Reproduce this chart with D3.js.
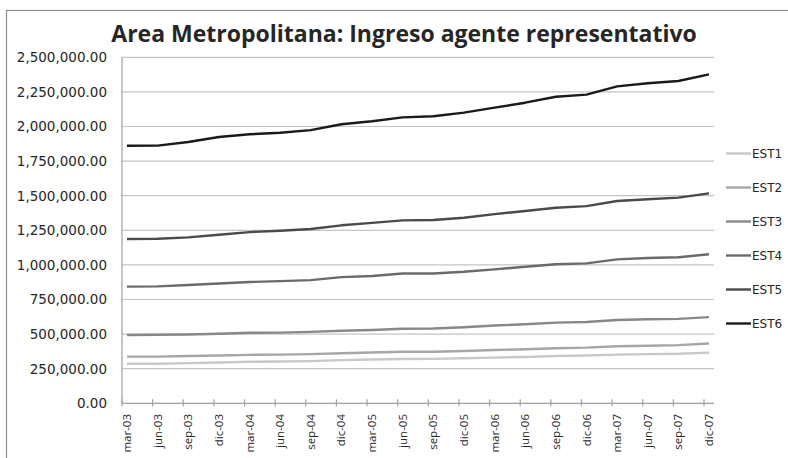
<!DOCTYPE html>
<html lang="es">
<head>
<meta charset="utf-8">
<title>Area Metropolitana: Ingreso agente representativo</title>
<style>
  body { margin: 0; background: #fff; }
  svg text { fill: #262626; }
</style>
</head>
<body>
<div id="chart"></div>
<script src="https://cdn.jsdelivr.net/npm/d3@7"></script>
<script>
var periodos = ["mar-03","jun-03","sep-03","dic-03","mar-04","jun-04","sep-04","dic-04",
                "mar-05","jun-05","sep-05","dic-05","mar-06","jun-06","sep-06","dic-06",
                "mar-07","jun-07","sep-07","dic-07"];

var est1 = [286000,286000,290000,295000,300000,302000,305000,312000,316000,320000,
            321000,325000,330000,335000,342000,345000,352000,355000,358000,366000];
var est2 = [337000,337000,342000,345000,350000,352000,355000,362000,367000,372000,
            373000,378000,385000,390000,398000,402000,412000,416000,420000,432000];
var est3 = [493000,495000,497000,503000,510000,511000,516000,524000,530000,539000,
            540000,550000,562000,571000,583000,587000,602000,607000,610000,623000];
var est4 = [843000,845000,855000,866000,876000,883000,890000,912000,920000,938000,
            938000,950000,968000,987000,1005000,1011000,1040000,1050000,1055000,1077000];
var est5 = [1187000,1189000,1199000,1218000,1237000,1247000,1259000,1286000,1304000,1322000,
            1324000,1341000,1367000,1389000,1413000,1425000,1462000,1474000,1486000,1517000];
var est6 = [1861000,1862000,1888000,1924000,1944000,1955000,1974000,2016000,2038000,2066000,
            2074000,2100000,2136000,2172000,2215000,2230000,2290000,2312000,2329000,2377000];

var nombres = ["EST1","EST2","EST3","EST4","EST5","EST6"];
var colores = ["#c8c8c8","#a6a6a6","#888888","#6a6a6a","#4a4a4a","#1a1a1a"];
var yTicks = [0,250000,500000,750000,1000000,1250000,1500000,1750000,2000000,2250000,2500000];

var series = [est1, est2, est3, est4, est5, est6];

var width = 788, height = 458;
var plotLeft = 122, plotRight = 714, plotTop = 57.3, plotBottom = 403.3;

var svg = d3.select("#chart").append("svg")
    .attr("width", width)
    .attr("height", height);

// marco exterior
svg.append("rect")
    .attr("x", 6.5).attr("y", 10.5)
    .attr("width", 800).attr("height", 460)
    .attr("fill", "none")
    .attr("stroke", "#8c8c8c")
    .attr("stroke-width", 1.2);

svg.append("text")
    .attr("x", 404).attr("y", 42)
    .attr("text-anchor", "middle")
    .style("font-family", "'Open Sans', sans-serif")
    .style("font-weight", "bold")
    .style("font-size", "23px")
    .text("Area Metropolitana: Ingreso agente representativo");

var x = d3.scalePoint().domain(periodos).range([plotLeft + 5, plotRight - 5]);
var y = d3.scaleLinear().domain([0, 2500000]).range([plotBottom, plotTop]);

// grid
svg.append("g").selectAll("line")
    .data(yTicks.slice(1))
    .enter().append("line")
    .attr("x1", plotLeft).attr("x2", plotRight)
    .attr("y1", function(d) { return y(d); })
    .attr("y2", function(d) { return y(d); })
    .attr("stroke", "#c4c4c4")
    .attr("stroke-width", 1.2);

// eje y
var fmt = d3.format(",.2f");
svg.append("g").selectAll("text")
    .data(yTicks)
    .enter().append("text")
    .attr("x", 107)
    .attr("y", function(d) { return y(d); })
    .attr("dy", "0.36em")
    .attr("text-anchor", "end")
    .style("font-family", "'DejaVu Sans', sans-serif")
    .style("font-size", "13.5px")
    .text(function(d) { return fmt(d); });

svg.append("line")
    .attr("x1", plotLeft).attr("x2", plotLeft)
    .attr("y1", plotTop).attr("y2", plotBottom)
    .attr("stroke", "#a0a0a0").attr("stroke-width", 1.2);

// eje x
svg.append("line")
    .attr("x1", plotLeft).attr("x2", plotRight)
    .attr("y1", plotBottom).attr("y2", plotBottom)
    .attr("stroke", "#a0a0a0").attr("stroke-width", 1.2);

svg.append("g").selectAll("line")
    .data(periodos)
    .enter().append("line")
    .attr("x1", function(d) { return x(d) - 5; })
    .attr("x2", function(d) { return x(d) - 5; })
    .attr("y1", plotBottom - 4).attr("y2", plotBottom + 3)
    .attr("stroke", "#a0a0a0").attr("stroke-width", 1.2);

svg.append("g").selectAll("text")
    .data(periodos)
    .enter().append("text")
    .attr("transform", function(d) { return "translate(" + x(d) + "," + 414 + ") rotate(-90)"; })
    .attr("text-anchor", "end")
    .attr("dy", "0.35em")
    .style("font-family", "'Open Sans', sans-serif")
    .style("font-size", "11.5px")
    .text(function(d) { return d; });

// lineas
var line = d3.line()
    .x(function(d, i) { return x(periodos[i]); })
    .y(function(d) { return y(d); });

svg.append("g").selectAll("path")
    .data(series)
    .enter().append("path")
    .attr("d", line)
    .attr("fill", "none")
    .attr("stroke", function(d, i) { return colores[i]; })
    .attr("stroke-width", 2.4)
    .attr("stroke-linejoin", "round");

// leyenda
var leg = svg.append("g").selectAll("g")
    .data(nombres)
    .enter().append("g")
    .attr("transform", function(d, i) { return "translate(726," + (153.5 + i * 34) + ")"; });

leg.append("line")
    .attr("x1", 0).attr("x2", 25)
    .attr("stroke", function(d, i) { return colores[i]; })
    .attr("stroke-width", 2.4);

leg.append("text")
    .attr("x", 26)
    .attr("dy", "0.36em")
    .style("font-family", "'DejaVu Sans', sans-serif")
    .style("font-size", "12px")
    .text(function(d) { return d; });
</script>
</body>
</html>
